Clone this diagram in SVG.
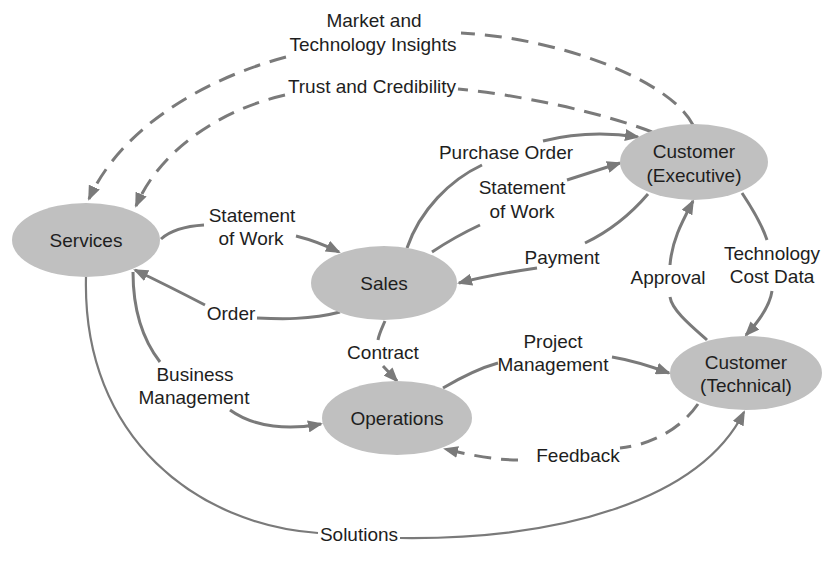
<svg xmlns="http://www.w3.org/2000/svg" width="823" height="571" viewBox="0 0 823 571">
<style>
.node{fill:#c0c0c0;stroke:none}
text{font-family:"Liberation Sans",Arial,sans-serif;font-size:19px;fill:#1e1e1e;text-anchor:middle}
.c{fill:none;stroke:#7a7a7a;stroke-width:3}
.d{stroke-dasharray:17 10}
.thin{stroke-width:2.2}
</style>
<defs>
<marker id="ah" viewBox="0 0 15 12" refX="13" refY="6" markerWidth="15" markerHeight="12" markerUnits="userSpaceOnUse" orient="auto">
<path d="M0,0 L15,6 L0,12 z" fill="#7a7a7a"/>
</marker>
</defs>
<rect width="823" height="571" fill="#ffffff"/>
<g id="connectors">
<path class="c d" d="M693,125 C670,80 560,38 461,33"/>
<path class="c d" d="M286,57 C200,80 120,130 89,199" marker-end="url(#ah)"/>
<path class="c d" d="M652,132 C600,112 520,95 458,89"/>
<path class="c d" d="M285,95 C220,110 160,150 136,206" marker-end="url(#ah)"/>
<path class="c" d="M161,239 C172,229 188,226 204,225"/>
<path class="c" d="M296,236 C312,240 325,245 339,252" marker-end="url(#ah)"/>
<path class="c" d="M340,312 C310,320 280,319 257,318"/>
<path class="c" d="M205,305 C180,292 158,281 135,270" marker-end="url(#ah)"/>
<path class="c" d="M407,248 C420,210 450,180 482,165"/>
<path class="c" d="M543,141 C575,133 605,132 638,137" marker-end="url(#ah)"/>
<path class="c" d="M432,252 C450,240 465,232 480,225"/>
<path class="c" d="M567,180 L620,163" marker-end="url(#ah)"/>
<path class="c" d="M648,194 C630,215 608,232 585,243"/>
<path class="c" d="M537,268 C510,272 485,276 459,283" marker-end="url(#ah)"/>
<path class="c" d="M707,340 C690,325 672,310 670,297"/>
<path class="c" d="M670,265 C672,240 682,222 693,201" marker-end="url(#ah)"/>
<path class="c" d="M742,193 C752,208 762,225 767,240"/>
<path class="c" d="M772,291 C770,305 760,320 746,335" marker-end="url(#ah)"/>
<path class="c" d="M385,321 C382,328 379,334 378,340"/>
<path class="c" d="M383,366 L397,381" marker-end="url(#ah)"/>
<path class="c" d="M443,388 C460,378 480,368 498,363"/>
<path class="c" d="M612,357 C630,360 650,366 669,373" marker-end="url(#ah)"/>
<path class="c" d="M133,272 C133,310 143,340 160,362"/>
<path class="c" d="M230,410 C255,428 290,430 321,424" marker-end="url(#ah)"/>
<path class="c d" d="M698,404 C680,430 650,445 620,448"/>
<path class="c d" d="M518,460 C495,460 470,455 445,449" marker-end="url(#ah)"/>
<path class="c thin" d="M86,277 C82,440 200,525 318,533"/>
<path class="c thin" d="M400,538 C560,540 700,500 744,412" marker-end="url(#ah)"/>
</g>
<g id="services"><ellipse class="node" cx="86" cy="240" rx="74" ry="37"/><text x="86" y="247">Services</text></g>
<g id="sales"><ellipse class="node" cx="384" cy="283" rx="73" ry="37"/><text x="384" y="290">Sales</text></g>
<g id="operations"><ellipse class="node" cx="397" cy="418" rx="75" ry="37"/><text x="397" y="425">Operations</text></g>
<g id="customer-executive"><ellipse class="node" cx="694" cy="162" rx="74" ry="38"/><text x="694" y="158">Customer</text><text x="694" y="182">(Executive)</text></g>
<g id="customer-technical"><ellipse class="node" cx="746" cy="373" rx="76" ry="37"/><text x="746" y="369">Customer</text><text x="746" y="392">(Technical)</text></g>
<g id="labels">
<text x="374" y="27">Market and</text>
<text x="373" y="51">Technology Insights</text>
<text x="372" y="93">Trust and Credibility</text>
<text x="506" y="159">Purchase Order</text>
<text x="522" y="194">Statement</text>
<text x="522" y="218">of Work</text>
<text x="252" y="222">Statement</text>
<text x="251" y="245">of Work</text>
<text x="562" y="264">Payment</text>
<text x="668" y="284">Approval</text>
<text x="772" y="260">Technology</text>
<text x="772" y="283">Cost Data</text>
<text x="231" y="320">Order</text>
<text x="383" y="359">Contract</text>
<text x="553" y="348">Project</text>
<text x="553" y="371">Management</text>
<text x="195" y="381">Business</text>
<text x="194" y="404">Management</text>
<text x="578" y="462">Feedback</text>
<text x="359" y="541">Solutions</text>
</g>
</svg>
